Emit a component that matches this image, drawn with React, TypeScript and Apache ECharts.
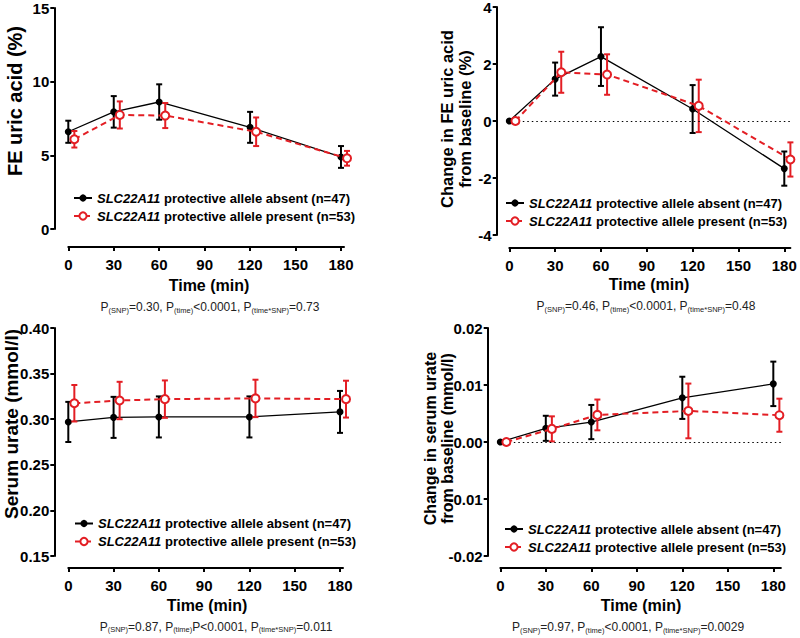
import React, { useEffect, useRef } from 'react';
import * as echarts from 'echarts';

// ---------- data ----------
const TIMES = [0, 30, 60, 120, 180];
const RED_NUDGE = 4; // present-allele series is drawn nudged 4 min to the right
const X_TICKS = [0, 30, 60, 90, 120, 150, 180];

const NAME_ABSENT = 'SLC22A11 protective allele absent (n=47)';
const NAME_PRESENT = 'SLC22A11 protective allele present (n=53)';

// FE uric acid (%)
const FE_ABSENT = [6.6, 7.95, 8.62, 6.9, 4.89];
const FE_ABSENT_ERR = [0.75, 1.07, 1.2, 1.05, 0.74];
const FE_PRESENT = [6.09, 7.74, 7.7, 6.6, 4.8];
const FE_PRESENT_ERR = [0.56, 0.92, 0.85, 0.97, 0.5];

// Change in FE uric acid from baseline (%)
const DFE_ABSENT = [0, 1.47, 2.26, 0.42, -1.67];
const DFE_ABSENT_ERR = [0, 0.58, 1.03, 0.84, 0.6];
const DFE_PRESENT = [0, 1.71, 1.63, 0.53, -1.35];
const DFE_PRESENT_ERR = [0, 0.72, 0.71, 0.92, 0.6];

// Serum urate (mmol/l)
const SU_ABSENT = [0.297, 0.302, 0.3025, 0.3025, 0.308];
const SU_ABSENT_ERR = [0.022, 0.0225, 0.0225, 0.0225, 0.023];
const SU_PRESENT = [0.3175, 0.3205, 0.322, 0.3228, 0.322];
const SU_PRESENT_ERR = [0.02, 0.0205, 0.0205, 0.0205, 0.0202];

// Change in serum urate from baseline (mmol/l)
const DSU_ABSENT = [0, 0.0024, 0.0035, 0.00775, 0.0102];
const DSU_ABSENT_ERR = [0, 0.0022, 0.003, 0.0037, 0.0039];
const DSU_PRESENT = [0, 0.0023, 0.00475, 0.00545, 0.0047];
const DSU_PRESENT_ERR = [0, 0.0022, 0.0027, 0.0048, 0.0029];

const Y_TITLES = [
  'FE uric acid (%)',
  'Change in FE uric acid\nfrom baseline (%)',
  'Serum urate (mmol/l)',
  'Change in serum urate\nfrom baseline (mmol/l)',
];
const X_TITLE = 'Time (min)';
const P_TEXTS = [
  [['P', '(SNP)', '=0.30, '], ['P', '(time)', '<0.0001, '], ['P', '(time*SNP)', '=0.73']],
  [['P', '(SNP)', '=0.46, '], ['P', '(time)', '<0.0001, '], ['P', '(time*SNP)', '=0.48']],
  [['P', '(SNP)', '=0.87, '], ['P', '(time)', 'P<0.0001, '], ['P', '(time*SNP)', '=0.011']],
  [['P', '(SNP)', '=0.97, '], ['P', '(time)', '<0.0001, '], ['P', '(time*SNP)', '=0.0029']],
];

// ---------- layout / style ----------
const FONT = "'Liberation Sans', Arial, Helvetica, sans-serif";
const RED = '#e31e24';
const BLACK = '#000';
const GREY = '#222';

const PANELS = [
  {
    grid: { left: 68.3, top: 8, width: 275.7, height: 221 },
    xMax: 182, xOff: 18, yOff: 14,
    y: { min: 0, max: 15, interval: 5, dec: 0 },
    data: [FE_ABSENT, FE_ABSENT_ERR, FE_PRESENT, FE_PRESENT_ERR],
    zero: false,
    yTitle: { x: 15, y: 101, size: 20 },
    xTitle: { x: 209, y: 285 },
    pText: { x: 210, y: 307 },
    legend: { left: 73, top: 191 },
  },
  {
    grid: { left: 509.3, top: 7, width: 281.1, height: 228 },
    xMax: 184, xOff: 13, yOff: 12.6,
    y: { min: -4, max: 4, interval: 2, dec: 0 },
    data: [DFE_ABSENT, DFE_ABSENT_ERR, DFE_PRESENT, DFE_PRESENT_ERR],
    zero: true,
    yTitle: { x: 456, y: 119, size: 16.5 },
    xTitle: { x: 649, y: 284 },
    pText: { x: 646, y: 306 },
    legend: { left: 505, top: 196 },
  },
  {
    grid: { left: 68.3, top: 328, width: 274.7, height: 228 },
    xMax: 182, xOff: 12, yOff: 14,
    y: { min: 0.15, max: 0.4, interval: 0.05, dec: 2 },
    data: [SU_ABSENT, SU_ABSENT_ERR, SU_PRESENT, SU_PRESENT_ERR],
    zero: false,
    yTitle: { x: 11, y: 424, size: 19 },
    xTitle: { x: 207, y: 605.5 },
    pText: { x: 216, y: 626.5 },
    legend: { left: 74, top: 516.5 },
  },
  {
    grid: { left: 500.3, top: 328, width: 280.6, height: 228 },
    xMax: 185, xOff: 12, yOff: 12.6,
    y: { min: -0.02, max: 0.02, interval: 0.01, dec: 2 },
    data: [DSU_ABSENT, DSU_ABSENT_ERR, DSU_PRESENT, DSU_PRESENT_ERR],
    zero: true,
    yTitle: { x: 439, y: 438.5, size: 16 },
    xTitle: { x: 641, y: 605 },
    pText: { x: 628, y: 627 },
    legend: { left: 504, top: 522 },
  },
];

function errorRenderer(color: string) {
  return (params: any, api: any) => {
    const x = api.value(0);
    const lo = api.coord([x, api.value(1)]);
    const hi = api.coord([x, api.value(2)]);
    const cap = 3;
    const style = { stroke: color, lineWidth: 2 };
    return {
      type: 'group',
      children: [
        { type: 'line', shape: { x1: lo[0], y1: lo[1], x2: hi[0], y2: hi[1] }, style },
        { type: 'line', shape: { x1: lo[0] - cap, y1: lo[1], x2: lo[0] + cap, y2: lo[1] }, style },
        { type: 'line', shape: { x1: hi[0] - cap, y1: hi[1], x2: hi[0] + cap, y2: hi[1] }, style },
      ],
    };
  };
}

function buildOption() {
  const grid: any[] = [];
  const xAxis: any[] = [];
  const yAxis: any[] = [];
  const series: any[] = [];
  const legend: any[] = [];
  const graphic: any[] = [];

  PANELS.forEach((p, i) => {
    grid.push({ ...p.grid, containLabel: false, outerBoundsMode: 'none' });
    const axisLine = { show: true, onZero: false, lineStyle: { color: BLACK, width: 2 } };
    xAxis.push({
      type: 'value', gridIndex: i, min: 0, max: p.xMax, offset: p.xOff,
      axisLine,
      axisTick: { show: true, customValues: X_TICKS, length: 4, lineStyle: { color: BLACK, width: 2 } },
      axisLabel: {
        customValues: X_TICKS, margin: 10, color: BLACK, fontSize: 15, fontWeight: 'bold', fontFamily: FONT,
      },
      splitLine: { show: false },
    });
    yAxis.push({
      type: 'value', gridIndex: i, min: p.y.min, max: p.y.max, interval: p.y.interval, offset: p.yOff,
      axisLine,
      axisTick: { show: true, length: 4, lineStyle: { color: BLACK, width: 2 } },
      axisLabel: {
        margin: 5, color: BLACK, fontSize: 15, fontWeight: 'bold', fontFamily: FONT, lineHeight: 12,
        formatter: (v: number) => v.toFixed(p.y.dec),
      },
      splitLine: { show: false },
    });

    const [mA, eA, mP, eP] = p.data;
    const errData = (m: number[], e: number[], nudge: number) =>
      TIMES.map((t, k) => [t + nudge, m[k] - e[k], m[k] + e[k]]).filter((_, k) => e[k] > 0);

    series.push({
      type: 'custom', xAxisIndex: i, yAxisIndex: i, renderItem: errorRenderer(BLACK),
      data: errData(mA, eA, 0), encode: { x: 0, y: [1, 2] }, silent: true, clip: false, z: 2,
    });
    series.push({
      type: 'line', name: NAME_ABSENT, xAxisIndex: i, yAxisIndex: i,
      data: TIMES.map((t, k) => [t, mA[k]]),
      symbol: 'circle', symbolSize: 7, clip: false, z: 3,
      itemStyle: { color: BLACK },
      lineStyle: { color: BLACK, width: 1.3 },
      markLine: p.zero
        ? {
            silent: true, symbol: 'none', label: { show: false },
            lineStyle: { color: BLACK, type: [1.5, 3], width: 1.2 },
            data: [{ yAxis: 0 }],
          }
        : undefined,
    });
    series.push({
      type: 'custom', xAxisIndex: i, yAxisIndex: i, renderItem: errorRenderer(RED),
      data: errData(mP, eP, RED_NUDGE), encode: { x: 0, y: [1, 2] }, silent: true, clip: false, z: 4,
    });
    series.push({
      type: 'line', name: NAME_PRESENT, xAxisIndex: i, yAxisIndex: i,
      data: TIMES.map((t, k) => [t + RED_NUDGE, mP[k]]),
      symbol: 'emptyCircle', symbolSize: 8, clip: false, z: 5,
      itemStyle: { color: RED, borderColor: RED, borderWidth: 2 },
      lineStyle: { color: RED, width: 2, type: [6, 4] },
    });

    legend.push({
      orient: 'vertical', left: p.legend.left, top: p.legend.top,
      data: [NAME_ABSENT, NAME_PRESENT],
      itemWidth: 18, itemHeight: 9, itemGap: 4, padding: 0,
      selectedMode: false,
      formatter: (name: string) => name.replace('SLC22A11', '{i|SLC22A11}'),
      textStyle: {
        color: BLACK, fontSize: 13, fontWeight: 'bold', fontFamily: FONT, lineHeight: 14,
        rich: { i: { fontStyle: 'italic', fontWeight: 'bold', fontSize: 13, fontFamily: FONT, color: BLACK } },
      },
    });

    graphic.push({
      type: 'text', x: p.yTitle.x, y: p.yTitle.y, rotation: Math.PI / 2,
      style: {
        text: Y_TITLES[i], fill: BLACK, font: `bold ${p.yTitle.size}px ${FONT}`,
        align: 'center', verticalAlign: 'middle', lineHeight: p.yTitle.size + 1.5,
      },
    });
    graphic.push({
      type: 'text', x: p.xTitle.x, y: p.xTitle.y,
      style: { text: X_TITLE, fill: BLACK, font: `bold 16px ${FONT}`, align: 'center', verticalAlign: 'middle' },
    });
    const rich = P_TEXTS[i]
      .map(([a, sub, rest]) => `{m|${a}}{s|${sub}}{m|${rest}}`)
      .join('');
    graphic.push({
      type: 'text', x: p.pText.x, y: p.pText.y,
      style: {
        text: rich, align: 'center', verticalAlign: 'middle', fill: GREY,
        rich: {
          m: { fontSize: 12, fontFamily: FONT, fill: GREY, lineHeight: 14 },
          s: { fontSize: 7.5, fontFamily: FONT, fill: GREY, lineHeight: 7, verticalAlign: 'bottom' },
        },
      },
    });
  });

  return { animation: false, backgroundColor: '#fff', grid, xAxis, yAxis, series, legend, graphic };
}

export default function App() {
  const ref = useRef<HTMLDivElement>(null);
  useEffect(() => {
    if (!ref.current) return;
    const chart = echarts.init(ref.current, undefined, { renderer: 'svg' });
    chart.setOption(buildOption() as any);
    return () => chart.dispose();
  }, []);
  return <div ref={ref} style={{ position: 'absolute', left: 0, top: 0, width: 800, height: 638 }} />;
}
